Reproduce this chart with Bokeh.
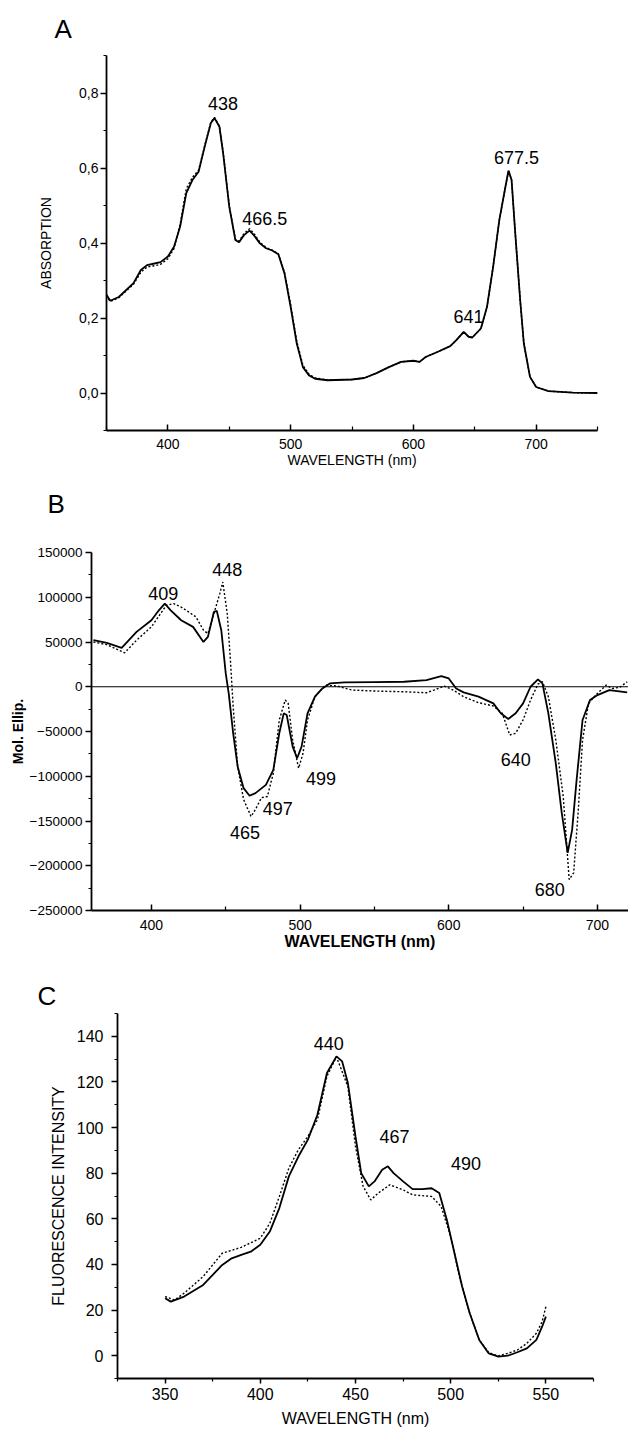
from bokeh.plotting import figure
from bokeh.models import FixedTicker, Span, BasicTickFormatter, Title
from bokeh.core.properties import value
from bokeh.embed import file_html
from bokeh.resources import INLINE

FONT = "Liberation Sans"

# ---------------- Panel A : absorption ----------------
a_wl = [350, 353, 360, 372, 378, 383, 390, 394, 400, 405, 410, 415, 420, 425, 430, 435, 438, 442, 445, 450, 455,
        458, 462, 466.5, 470, 475, 480, 485, 490, 495, 500, 505, 510, 515, 520, 530, 550, 560, 570, 580, 590,
        600, 605, 610, 620, 630, 635, 641, 645, 648, 655, 660, 665, 670, 675, 677.5, 680, 683, 687, 690, 695,
        700, 710, 730, 750]
a_solid = [0.262, 0.246, 0.256, 0.293, 0.328, 0.341, 0.346, 0.349, 0.364, 0.39, 0.444, 0.533, 0.568, 0.59, 0.657, 0.72, 0.733, 0.71, 0.64, 0.497, 0.408,
           0.402, 0.421, 0.433, 0.421, 0.399, 0.386, 0.38, 0.37, 0.319, 0.23, 0.132, 0.069, 0.047, 0.038, 0.034, 0.036, 0.04, 0.053, 0.069, 0.083,
           0.086, 0.083, 0.096, 0.11, 0.125, 0.141, 0.163, 0.15, 0.148, 0.172, 0.23, 0.337, 0.461, 0.55, 0.593, 0.568, 0.426, 0.248, 0.132, 0.043,
           0.016, 0.005, 0.001, 0.0]
a_dotted = [0.26, 0.244, 0.254, 0.29, 0.322, 0.336, 0.34, 0.343, 0.358, 0.385, 0.45, 0.545, 0.575, 0.594, 0.66, 0.722, 0.735, 0.712, 0.642, 0.5, 0.41,
            0.405, 0.425, 0.438, 0.426, 0.402, 0.388, 0.381, 0.371, 0.322, 0.236, 0.138, 0.074, 0.05, 0.04, 0.035, 0.036, 0.04, 0.053, 0.069, 0.083,
            0.086, 0.083, 0.096, 0.11, 0.125, 0.141, 0.163, 0.15, 0.148, 0.172, 0.23, 0.337, 0.461, 0.55, 0.593, 0.568, 0.426, 0.248, 0.132, 0.043,
            0.016, 0.005, 0.001, 0.0]
a_peak_text = ["438", "466.5", "641", "677.5"]
a_peak_x = [445, 479, 645, 684]
a_peak_y = [0.773, 0.466, 0.205, 0.627]
a_xticks = [400, 500, 600, 700]
a_yticks = [0.0, 0.2, 0.4, 0.6, 0.8]
a_ytick_labels = ["0,0", "0,2", "0,4", "0,6", "0,8"]

# ---------------- Panel B : circular dichroism ----------------
b_wl_s = [361, 370, 380, 390, 400, 405, 409, 413, 420, 428, 435, 438, 442, 444, 447, 450, 452, 455, 458, 462,
          466, 470, 477, 482, 486, 489, 491, 495, 498, 501, 505, 510, 515, 520, 530, 550, 570, 585, 595, 600,
          605, 610, 620, 630, 635, 640, 645, 650, 655, 660, 663, 667, 672, 676, 680, 683, 686, 690, 695, 700,
          708, 720]
b_solid = [52000, 49000, 43500, 61300, 74300, 85400, 92900, 85400, 74300, 66900, 50100, 55700, 83600, 84700, 63200, 14900, -7400, -52000, -89000, -113300,
           -121800, -118900, -109600, -92900, -52000, -29700, -31600, -66900, -79900, -66900, -29700, -11100, -1900, 3700, 4800, 5200, 5600, 7400, 11900, 9300,
           -1900, -6300, -11100, -18600, -29700, -36000, -29700, -18600, 0, 8200, 3700, -29700, -85500, -141000, -185700, -159700, -104000, -37100, -14900, -9300,
           -3700, -6300]
b_wl_d = [361, 370, 382, 390, 400, 410, 415, 420, 425, 430, 435, 438, 442, 446, 448, 451, 453, 455, 458, 462,
          467, 470, 474, 478, 482, 486, 490, 492, 495, 499, 502, 505, 510, 517, 525, 535, 550, 570, 585, 590,
          597, 603, 610, 620, 630, 636, 641, 645, 650, 655, 660, 663, 667, 672, 677, 681, 684, 687, 690, 694,
          700, 706, 710, 715, 720]
b_dotted = [50000, 47000, 37900, 52000, 66900, 91000, 92900, 89000, 83600, 78000, 63200, 59400, 81700, 104000, 117000, 81700, 33400, -22300, -89000, -126000,
            -145000, -137000, -124000, -122600, -96600, -37100, -14900, -18600, -59400, -91000, -74300, -37100, -11100, 1900, 700, -3700, -4800, -5600, -6700, -3700,
            700, -3700, -11100, -17800, -21500, -29700, -53900, -52000, -37100, -14900, 3000, 5600, -11100, -59400, -122600, -215400, -208000, -141000, -59400, -18600,
            -7400, 1900, -1900, -700, 5600]
b_peak_text = ["409", "448", "465", "497", "499", "640", "680"]
b_peak_x = [408, 451, 463, 485, 514, 645, 668]
b_peak_y = [104000, 130700, -163400, -135600, -102200, -81700, -226600]
b_xticks = [400, 500, 600, 700]
b_yticks = [-250000, -200000, -150000, -100000, -50000, 0, 50000, 100000, 150000]

# ---------------- Panel C : fluorescence excitation ----------------
c_wl_s = [350, 353, 360, 370, 380, 385, 390, 395, 400, 405, 410, 415, 420, 425, 430, 435, 440, 443, 446, 450,
          453, 457, 460, 464, 467, 470, 475, 480, 485, 490, 494, 498, 502, 506, 510, 515, 520, 525, 530, 535,
          540, 545, 548, 550]
c_solid = [25.2, 23.7, 25.9, 31, 39.8, 42.7, 44.2, 45.6, 48.6, 54.4, 64.7, 78.6, 87.3, 94.7, 105.6, 123.9, 131.2, 129, 119.5, 96.1,
           80, 74.2, 76.4, 81.5, 83, 80, 76.4, 73, 73, 73.4, 71.3, 59.5, 44.9, 30.3, 18.6, 6.9, 1, -0.4, 0, 1.5,
           3.2, 6.9, 12.7, 17.1]
c_wl_d = [350, 355, 360, 370, 380, 390, 400, 405, 410, 415, 420, 425, 430, 435, 440, 446, 450, 454, 458, 462,
          468, 475, 480, 490, 495, 500, 505, 510, 515, 520, 525, 530, 535, 540, 545, 548, 550]
c_dotted = [25.9, 24.4, 27.4, 34.7, 44.9, 47.5, 51.5, 58, 69.8, 82.2, 90.3, 96.1, 103.4, 122.5, 131, 118, 91.7, 74.2, 68.3, 71.3,
            74.9, 72.7, 70.5, 69.8, 65.4, 52.2, 33.2, 18.6, 6.9, 1.3, -0.1, 1, 2.5, 5.4, 9.8, 14.9, 21.5]
c_peak_text = ["440", "467", "490"]
c_peak_x = [436, 470.5, 508]
c_peak_y = [137, 96, 84.4]
c_xticks = [350, 400, 450, 500, 550]
c_yticks = [0, 20, 40, 60, 80, 100, 120, 140]


def style_title(t, offset, standoff):
    t.text_font = FONT
    t.text_font_size = "26px"
    t.text_font_style = "normal"
    t.text_color = "black"
    t.align = "left"
    t.offset = offset
    t.vertical_align = "top"
    t.standoff = standoff


def base_fig(letter, letter_offset, letter_standoff, height, xr, yr, bl, br, bt, bb):
    p = figure(width=628, height=height, x_range=xr, y_range=yr,
               output_backend="svg", toolbar_location=None, title=letter,
               min_border_left=bl, min_border_right=br, min_border_top=bt, min_border_bottom=bb)
    p.grid.visible = False
    p.outline_line_color = None
    p.background_fill_color = "white"
    p.border_fill_color = "white"
    style_title(p.title, letter_offset, letter_standoff)
    for ax in (p.xaxis[0], p.yaxis[0]):
        ax.axis_line_color = "black"
        ax.axis_line_width = 1.8
        ax.major_tick_line_color = "black"
        ax.major_tick_line_width = 1.5
        ax.minor_tick_line_color = "black"
        ax.minor_tick_line_width = 1.2
        ax.major_label_text_font = FONT
        ax.axis_label_text_font = FONT
        ax.axis_label_text_font_style = "normal"
        ax.major_label_text_color = "black"
        ax.axis_label_text_color = "black"
    return p


def add_peaks(p, xs, ys, texts, size="18px"):
    p.text(x=xs, y=ys, text=texts, text_font=value(FONT), text_font_size=size,
           text_align="center", text_baseline="middle", text_color="black")


# ---- A (its bottom border also carries the letter of panel B) ----
pa = base_fig("A", -52, 20, 540, (350, 750), (-0.1, 0.9), 106, 31, 55, 110)
pa.line(a_wl, a_dotted, line_color="black", line_width=1.4, line_dash="2 2")
pa.line(a_wl, a_solid, line_color="black", line_width=1.8)
add_peaks(pa, a_peak_x, a_peak_y, a_peak_text)
pa.xaxis.ticker = FixedTicker(ticks=a_xticks, minor_ticks=[350, 450, 550, 650, 750])
pa.yaxis.ticker = FixedTicker(ticks=a_yticks, minor_ticks=[-0.1, 0.1, 0.3, 0.5, 0.7, 0.9])
pa.yaxis.major_label_overrides = dict(zip(a_yticks, a_ytick_labels))
pa.xaxis.major_tick_in = 6
pa.xaxis.major_tick_out = 0
pa.xaxis.minor_tick_in = 4
pa.xaxis.minor_tick_out = 0
pa.yaxis.major_tick_in = 0
pa.yaxis.major_tick_out = 6
pa.yaxis.minor_tick_in = 0
pa.yaxis.minor_tick_out = 3
pa.xaxis.major_label_text_font_size = "14px"
pa.yaxis.major_label_text_font_size = "14px"
pa.xaxis.axis_label = "WAVELENGTH (nm)"
pa.yaxis.axis_label = "ABSORPTION"
pa.xaxis.axis_label_text_font_size = "14px"
pa.yaxis.axis_label_text_font_size = "14px"
pa.xaxis.major_label_standoff = 8
pa.xaxis.axis_label_standoff = 0
pa.yaxis.major_label_standoff = 2
pa.yaxis.axis_label_standoff = 22
title_b = Title(text="B")
style_title(title_b, -59, 36)
pa.add_layout(title_b, "below")

# ---- B ----
pb = base_fig("", 0, 0, 415, (359.7, 720.9), (-250000, 150000), 91, 0, 12, 45)
pb.add_layout(Span(location=0, dimension="width", line_color="black", line_width=1.2))
pb.line(b_wl_d, b_dotted, line_color="black", line_width=1.4, line_dash="2 2")
pb.line(b_wl_s, b_solid, line_color="black", line_width=1.8)
add_peaks(pb, b_peak_x, b_peak_y, b_peak_text)
pb.xaxis.ticker = FixedTicker(ticks=b_xticks, minor_ticks=[450, 550, 650])
pb.yaxis.ticker = FixedTicker(ticks=b_yticks, minor_ticks=[-225000, -175000, -125000, -75000, -25000, 25000, 75000, 125000])
pb.yaxis.formatter = BasicTickFormatter(use_scientific=False)
pb.xaxis.major_tick_in = 6
pb.xaxis.major_tick_out = 0
pb.xaxis.minor_tick_in = 4
pb.xaxis.minor_tick_out = 0
pb.yaxis.major_tick_in = 0
pb.yaxis.major_tick_out = 6
pb.yaxis.minor_tick_in = 0
pb.yaxis.minor_tick_out = 3
pb.xaxis.major_label_text_font_size = "14px"
pb.yaxis.major_label_text_font_size = "13.5px"
pb.xaxis.axis_label = "WAVELENGTH (nm)"
pb.yaxis.axis_label = "Mol. Ellip."
pb.xaxis.axis_label_text_font_size = "16px"
pb.yaxis.axis_label_text_font_size = "14px"
pb.xaxis.axis_label_text_font_style = "bold"
pb.yaxis.axis_label_text_font_style = "bold"
pb.xaxis.major_label_standoff = 9
pb.xaxis.axis_label_standoff = 0
pb.yaxis.major_label_standoff = 3
pb.yaxis.axis_label_standoff = 1

# ---- C ----
pc = base_fig("C", -80, 2, 480, (325, 575), (-10, 150), 117, 35, 58, 57)
pc.line(c_wl_d, c_dotted, line_color="black", line_width=1.4, line_dash="2 2")
pc.line(c_wl_s, c_solid, line_color="black", line_width=1.8)
add_peaks(pc, c_peak_x, c_peak_y, c_peak_text)
pc.xaxis.ticker = FixedTicker(ticks=c_xticks, minor_ticks=[325, 375, 425, 475, 525, 575])
pc.yaxis.ticker = FixedTicker(ticks=c_yticks, minor_ticks=[-10, 10, 30, 50, 70, 90, 110, 130, 150])
pc.xaxis.major_tick_in = 0
pc.xaxis.major_tick_out = 5
pc.xaxis.minor_tick_in = 0
pc.xaxis.minor_tick_out = 3
pc.yaxis.major_tick_in = 0
pc.yaxis.major_tick_out = 6
pc.yaxis.minor_tick_in = 0
pc.yaxis.minor_tick_out = 3
pc.xaxis.major_label_text_font_size = "16px"
pc.yaxis.major_label_text_font_size = "16px"
pc.xaxis.axis_label = "WAVELENGTH (nm)"
pc.yaxis.axis_label = "FLUORESCENCE INTENSITY"
pc.xaxis.axis_label_text_font_size = "16px"
pc.yaxis.axis_label_text_font_size = "16px"
pc.xaxis.major_label_standoff = 4
pc.xaxis.axis_label_standoff = 7
pc.yaxis.major_label_standoff = 8
pc.yaxis.axis_label_standoff = 7

open("out.html", "w").write(file_html([pa, pb, pc], INLINE))
